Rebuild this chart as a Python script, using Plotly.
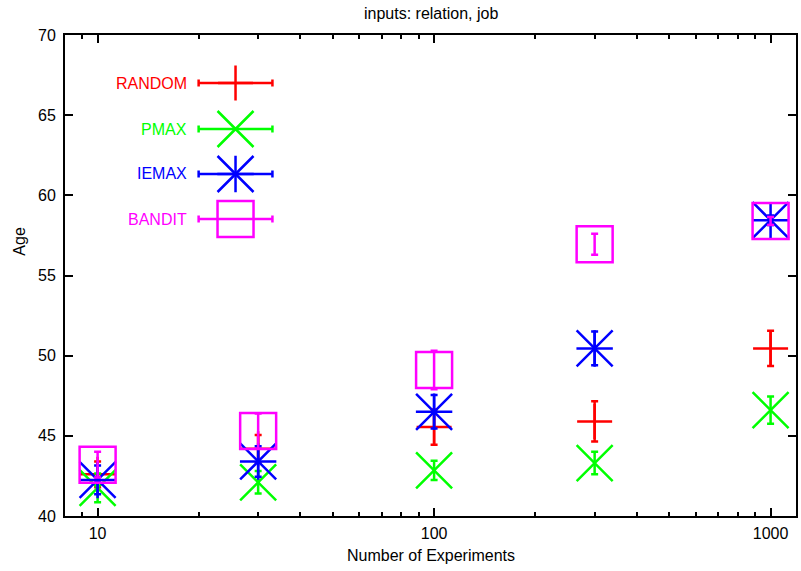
import plotly.graph_objects as go
import math

# ---------------- data ----------------
experiments = [10, 30, 100, 300, 1000]

random_mean = [42.6, 44.2, 45.55, 45.9, 50.45]
random_err = [0.8, 0.85, 1.1, 1.25, 1.1]

pmax_mean = [41.75, 42.1, 42.85, 43.3, 46.6]
pmax_err = [0.9, 0.7, 0.6, 0.7, 0.85]

iemax_mean = [42.25, 43.4, 46.5, 50.45, 58.45]
iemax_err = [0.9, 0.95, 1.05, 1.05, 0.3]

bandit_mean = [43.2, 45.3, 49.1, 56.95, 58.4]
bandit_err = [0.8, 1.1, 1.2, 0.65, 0.25]

series_names = ["RANDOM", "PMAX", "IEMAX", "BANDIT"]
x_major_ticks = [10, 100, 1000]
x_minor_ticks = [9, 20, 30, 40, 50, 60, 70, 80, 90, 200, 300, 400, 500, 600, 700, 800, 900]

# ---------------- styling / layout ----------------
W, H = 801, 571
L, R, T, B = 65, 798, 35, 516
FONT = "Liberation Sans, Arial, sans-serif"
FS = 16
LW = 2.5

colors = {"RANDOM": "#ff0000", "PMAX": "#00ff00", "IEMAX": "#0000ff", "BANDIT": "#ff00ff"}
# list of (symbol, size) layers per series (IEMAX star = plus + x)
symbols = {
    "RANDOM": [("cross-thin", 25)],
    "PMAX": [("x-thin", 36)],
    "IEMAX": [("x-thin", 36), ("cross-thin", 26)],
    "BANDIT": [("square-open", 36)],
}
data = {
    "RANDOM": (random_mean, random_err),
    "PMAX": (pmax_mean, pmax_err),
    "IEMAX": (iemax_mean, iemax_err),
    "BANDIT": (bandit_mean, bandit_err),
}

fig = go.Figure()

for name in series_names:
    mean, err = data[name]
    c = colors[name]
    fig.add_trace(go.Scatter(
        x=experiments, y=mean, mode="markers", name=name, showlegend=False,
        error_y=dict(type="data", array=err, visible=True, color=c, thickness=LW, width=3.5),
        marker=dict(symbol=symbols[name][0][0], size=symbols[name][0][1],
                    color=c, line=dict(color=c, width=LW)),
    ))
    for sym, sz in symbols[name][1:]:
        fig.add_trace(go.Scatter(
            x=experiments, y=mean, mode="markers", showlegend=False, hoverinfo="skip",
            marker=dict(symbol=sym, size=sz, color=c, line=dict(color=c, width=LW)),
        ))

# ---------------- custom gnuplot-style key ----------------
def fx(px):
    return (px - L) / (R - L)

def fy(py):
    return (B - py) / (B - T)

key_rows = [83, 129, 174, 219]
key_center = 236
key_half = 37
key_text_right = 189

annotations = []
for name, py in zip(series_names, key_rows):
    c = colors[name]
    fig.add_trace(go.Scatter(
        x=[fx(key_center)], y=[fy(py)], xaxis="x2", yaxis="y2", mode="markers",
        showlegend=False, hoverinfo="skip",
        error_x=dict(type="constant", value=key_half / (R - L), color=c, thickness=LW, width=3.5),
        marker=dict(symbol=symbols[name][0][0], size=symbols[name][0][1],
                    color=c, line=dict(color=c, width=LW)),
    ))
    for sym, sz in symbols[name][1:]:
        fig.add_trace(go.Scatter(
            x=[fx(key_center)], y=[fy(py)], xaxis="x2", yaxis="y2", mode="markers",
            showlegend=False, hoverinfo="skip",
            marker=dict(symbol=sym, size=sz, color=c, line=dict(color=c, width=LW)),
        ))
    annotations.append(dict(
        text=name, x=fx(key_text_right), y=fy(py), xref="paper", yref="paper",
        xanchor="right", yanchor="middle", showarrow=False,
        font=dict(family=FONT, size=FS, color=c),
    ))

annotations += [
    dict(text="inputs: relation, job", x=fx(432), y=fy(13), xref="paper", yref="paper",
         xanchor="center", yanchor="middle", showarrow=False,
         font=dict(family=FONT, size=FS, color="black")),
    dict(text="Number of Experiments", x=fx(432), y=fy(555), xref="paper", yref="paper",
         xanchor="center", yanchor="middle", showarrow=False,
         font=dict(family=FONT, size=FS, color="black")),
    dict(text="Age", x=fx(18.5), y=fy(241), xref="paper", yref="paper",
         xanchor="center", yanchor="middle", showarrow=False, textangle=-90,
         font=dict(family=FONT, size=FS, color="black")),
]

fig.update_layout(
    width=W, height=H,
    margin=dict(l=L, r=W - R, t=T, b=H - B, pad=0),
    paper_bgcolor="white", plot_bgcolor="white",
    font=dict(family=FONT, size=FS, color="black"),
    showlegend=False,
    annotations=annotations,
    xaxis=dict(
        type="log", range=[math.log10(8), math.log10(1190)],
        tickmode="array", tickvals=x_major_ticks, ticktext=[str(v) for v in x_major_ticks],
        ticks="inside", ticklen=8, tickwidth=1.5, tickcolor="black",
        minor=dict(tickmode="array", tickvals=x_minor_ticks, ticks="inside",
                   ticklen=4, tickwidth=1.5, tickcolor="black", showgrid=False),
        showline=True, linecolor="black", linewidth=2, mirror="allticks",
        showgrid=False, zeroline=False, ticklabelstandoff=2,
    ),
    yaxis=dict(
        range=[40, 70], tickmode="linear", tick0=40, dtick=5,
        ticks="inside", ticklen=8, tickwidth=1.5, tickcolor="black",
        showline=True, linecolor="black", linewidth=2, mirror="allticks",
        showgrid=False, zeroline=False, ticklabelstandoff=4,
    ),
    xaxis2=dict(overlaying="x", range=[0, 1], visible=False, fixedrange=True),
    yaxis2=dict(overlaying="y", range=[0, 1], visible=False, fixedrange=True),
)

fig.write_html(
    "out.html",
    config={"displayModeBar": False},
    post_script="document.body.style.margin='0';document.body.style.overflow='hidden';",
)
